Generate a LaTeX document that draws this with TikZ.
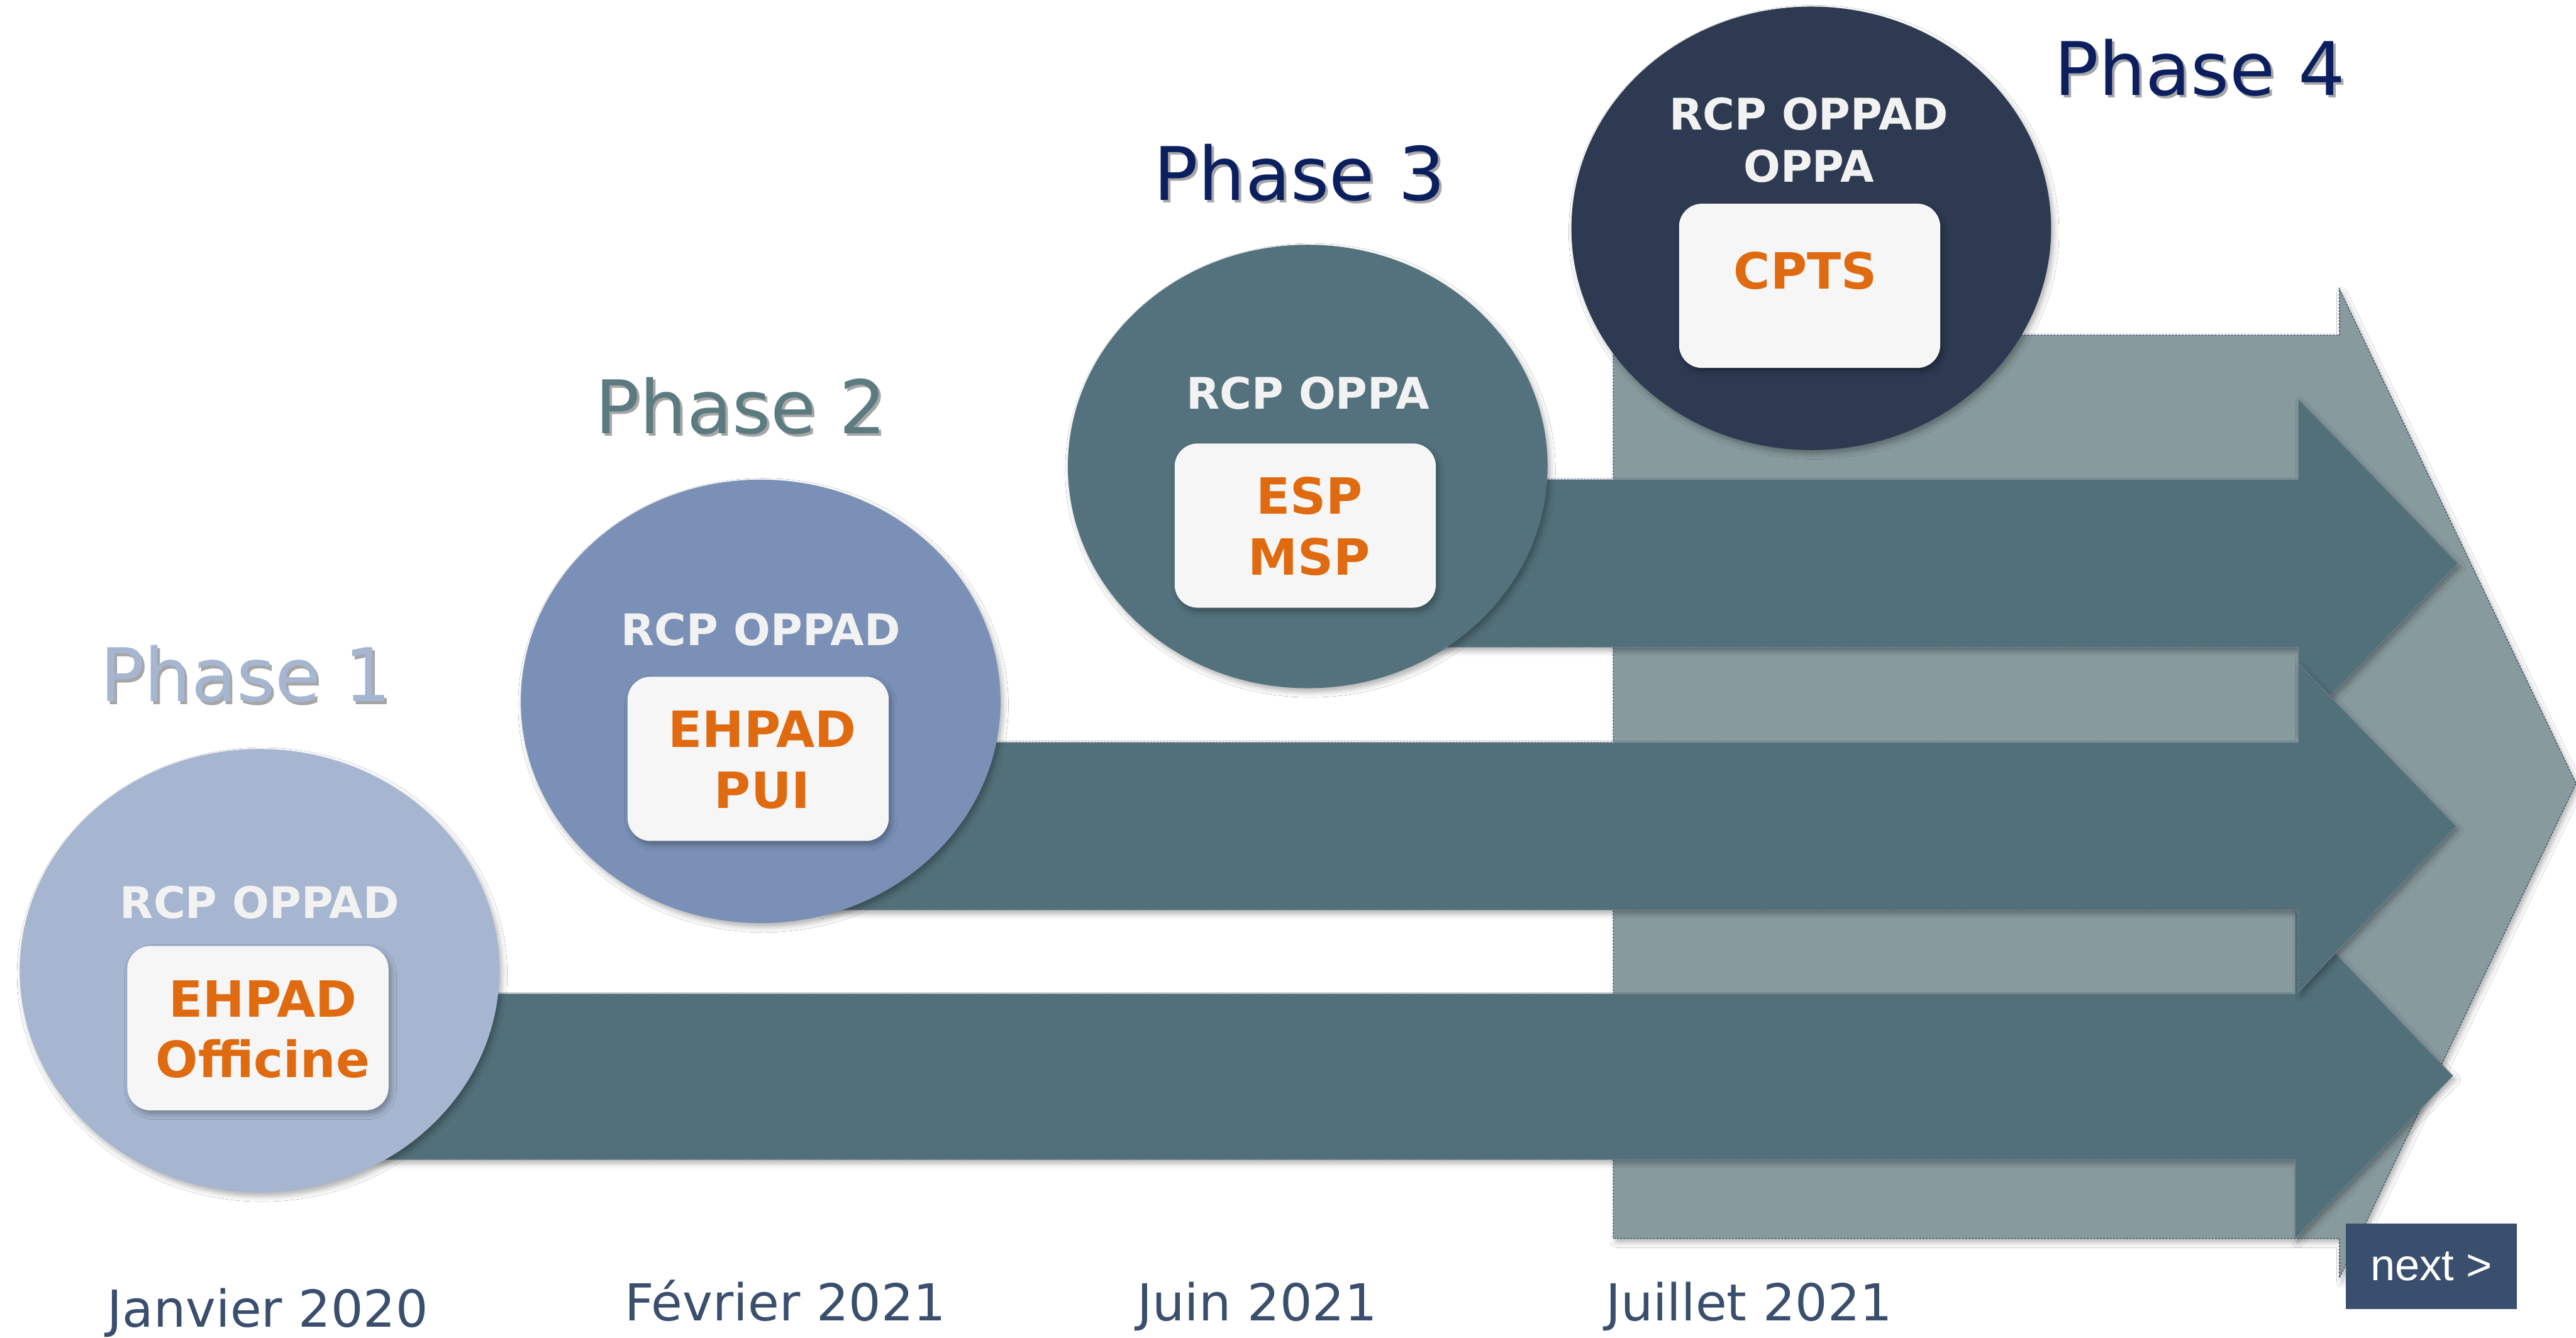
\documentclass[tikz,border=0pt]{standalone}
\usepackage{fontspec}
\setmainfont{DejaVu Sans}
\newfontfamily\arialfont{Liberation Sans}
\usetikzlibrary{shapes.geometric,shadows.blur}

\definecolor{phaseA}{HTML}{A6B6D0}
\definecolor{phaseB}{HTML}{7A90B7}
\definecolor{phaseC}{HTML}{53727D}
\definecolor{phaseD}{HTML}{2D3A52}
\definecolor{arrowdark}{HTML}{52707A}
\definecolor{arrowlight}{HTML}{879A9D}
\definecolor{orangetxt}{HTML}{E06A10}
\definecolor{navytxt}{HTML}{0B1F5F}
\definecolor{phaseBtxt}{HTML}{5B7B80}
\definecolor{datetxt}{HTML}{3A4E6E}
\definecolor{nextbg}{HTML}{3A4F6E}
\definecolor{boxfill}{HTML}{F6F6F6}
\definecolor{edgeline}{HTML}{3C4E6E}
\definecolor{lighttxt}{HTML}{F2F2F2}

\begin{document}
\begin{tikzpicture}[x=0.5pt, y=-0.5pt,
  softshadow/.style={blur shadow={shadow xshift=0.8pt, shadow yshift=-1.2pt,
      shadow blur radius=1.6pt, shadow opacity=30}},
  bigarrow/.style={fill=arrowlight, draw=edgeline, line width=0.25pt,
      dash pattern=on 0.6pt off 0.4pt, softshadow},
  darkarrow/.style={fill=arrowdark, draw=edgeline!70, line width=0.25pt,
      dash pattern=on 0.6pt off 0.4pt, softshadow},
  phasecircle/.style={ellipse, inner sep=0pt, minimum width=146pt,
      minimum height=135pt, softshadow},
  whitebox/.style={rectangle, rounded corners=7pt, fill=boxfill, inner sep=0pt,
      minimum width=79.5pt, minimum height=50pt, softshadow},
  circletext/.style={text=lighttxt, font=\bfseries\fontsize{13.25pt}{16pt}\selectfont,
      align=center, inner sep=0pt},
  boxtext/.style={text=orangetxt, font=\bfseries\fontsize{15.2pt}{18.5pt}\selectfont,
      align=center, inner sep=0pt},
  phaselabel/.style={font=\fontsize{22.5pt}{27pt}\selectfont, inner sep=0pt, anchor=base west},
  phaseshade/.style={phaselabel, text=black, text opacity=0.35},
  datelabel/.style={text=datetxt, font=\fontsize{15.5pt}{18pt}\selectfont,
      inner sep=0pt, anchor=base west},
  nextbutton/.style={rectangle, fill=nextbg, inner sep=0pt, minimum width=52pt,
      minimum height=26pt, text=white, font=\arialfont\fontsize{13.5pt}{16pt}\selectfont}
]
\fill[white] (0,0) rectangle (1568,814.4);
\useasboundingbox (0,0) rectangle (1568,814.4);

% wide background arrow behind the last phase
\path[bigarrow] (982,204) -- (1424,204) -- (1424,176) -- (1568,477)
  -- (1424,778) -- (1424,754) -- (982,754) -- cycle;

% one arrow per phase, running to the right
\path[darkarrow] (200,605) -- (1397,605) -- (1397,555) -- (1493,655)
  -- (1397,754) -- (1397,706) -- (200,706) -- cycle;
\path[darkarrow] (840,292) -- (1399,292) -- (1399,243) -- (1496,343)
  -- (1399,444) -- (1399,394) -- (840,394) -- cycle;
\path[darkarrow] (500,452) -- (1399,452) -- (1399,404) -- (1495,503)
  -- (1399,604) -- (1399,554) -- (500,554) -- cycle;

% phase circles
\node[phasecircle, fill=phaseA] (c1) at (158,591) {};
\node[phasecircle, fill=phaseB] (c2) at (463,427) {};
\node[phasecircle, fill=phaseC] (c3) at (796,284) {};
\node[phasecircle, fill=phaseD] (c4) at (1102.5,139) {};

% white boxes inside the circles
\node[whitebox] (b1) at (157,626) {};
\node[whitebox] (b2) at (461.5,462) {};
\node[whitebox] (b3) at (794.5,320) {};
\node[whitebox] (b4) at (1101.5,174) {};

% circle captions
\node[circletext, anchor=base] (r1) at (158,559) {RCP OPPAD};
\node[circletext, anchor=base] (r2) at (463,393) {RCP OPPAD};
\node[circletext, anchor=base] (r3) at (796,249) {RCP OPPA};
\node[circletext, anchor=base] (r4a) at (1101,79) {RCP OPPAD};
\node[circletext, anchor=base] (r4b) at (1101,111) {OPPA};

% box contents
\node[boxtext, anchor=base] (e1a) at (160,619) {EHPAD};
\node[boxtext, anchor=base] (e1b) at (160,656) {Officine};
\node[boxtext, anchor=base] (e2a) at (464,455) {EHPAD};
\node[boxtext, anchor=base] (e2b) at (464,492) {PUI};
\node[boxtext, anchor=base] (e3a) at (797,313) {ESP};
\node[boxtext, anchor=base] (e3b) at (797,350) {MSP};
\node[boxtext, anchor=base] (e4a) at (1099,176) {CPTS};

% phase titles with a light shadow
\node[phaseshade] (p1s) at (62,429) {Phase 1};
\node[phaselabel, text=phaseA] (p1) at (60.5,427) {Phase 1};
\node[phaseshade] (p2s) at (363.5,265.5) {Phase 2};
\node[phaselabel, text=phaseBtxt] (p2) at (362,264) {Phase 2};
\node[phaseshade] (p3s) at (703.5,123.5) {Phase 3};
\node[phaselabel, text=navytxt] (p3) at (702,122) {Phase 3};
\node[phaseshade] (p4s) at (1251.5,59.5) {Phase 4};
\node[phaselabel, text=navytxt] (p4) at (1250,58) {Phase 4};

% dates
\node[datelabel] (d1) at (65,808) {Janvier 2020};
\node[datelabel] (d2) at (380,804) {Février 2021};
\node[datelabel] (d3) at (692,804) {Juin 2021};
\node[datelabel] (d4) at (977,804) {Juillet 2021};

% navigation button
\node[nextbutton] (next) at (1480,771) {next >};
\end{tikzpicture}
\end{document}
